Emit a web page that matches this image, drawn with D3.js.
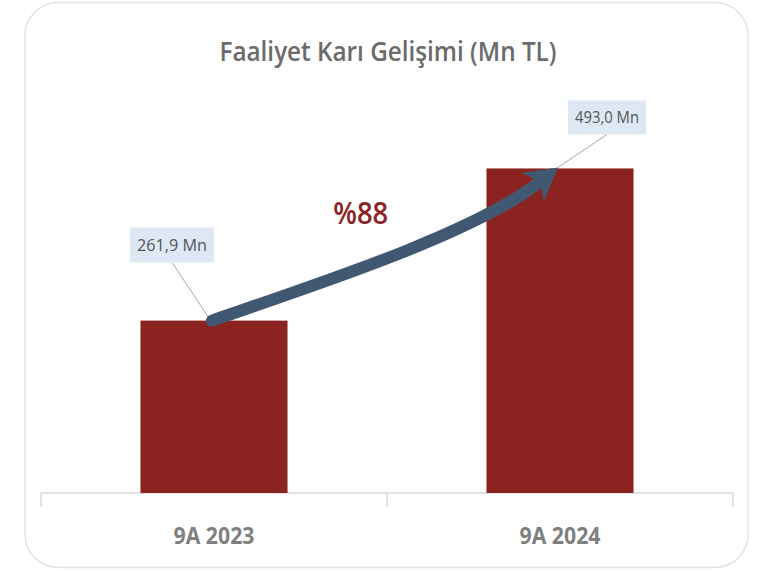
<html>
<head>
<meta charset="utf-8">
<script src="https://d3js.org/d3.v7.min.js"></script>
<style>
  body { margin: 0; background: #fff; }
  text { font-family: "Open Sans", sans-serif; }
</style>
</head>
<body>
<div id="chart"></div>
<script>
// data
const categories = ["9A 2023", "9A 2024"];
const values = [261.9, 493.0];
const valueLabels = ["261,9 Mn", "493,0 Mn"];
const growthLabel = "%88";
const title = "Faaliyet Karı Gelişimi (Mn TL)";

const width = 777, height = 571;
const svg = d3.select("#chart").append("svg")
    .attr("width", width)
    .attr("height", height);

// card
svg.append("rect")
    .attr("x", 25).attr("y", 2.5)
    .attr("width", 723).attr("height", 565)
    .attr("rx", 33).attr("ry", 33)
    .attr("fill", "#fff")
    .attr("stroke", "#e2e2e2")
    .attr("stroke-width", 1.5);

svg.append("text")
    .attr("x", 388).attr("y", 61)
    .attr("text-anchor", "middle")
    .attr("font-size", 27)
    .attr("font-weight", 600)
    .attr("fill", "#6b6b6b")
    .attr("textLength", 337)
    .attr("lengthAdjust", "spacingAndGlyphs")
    .text(title);

const x = d3.scaleBand()
    .domain(categories)
    .range([41, 733])
    .paddingInner(0.575)
    .paddingOuter(0.2875);

const y = d3.scaleLinear()
    .domain([0, 600])
    .range([493, 98]);

// axis
const axis = svg.append("g").attr("transform", `translate(0,${y(0)})`);
axis.append("line")
    .attr("x1", x.range()[0]).attr("x2", x.range()[1])
    .attr("stroke", "#d9d9d9").attr("stroke-width", 1.5);
const tickX = [x.range()[0], x.range()[0] + x.step(), x.range()[1]];
axis.selectAll(".tk").data(tickX).join("line")
    .attr("x1", d => d).attr("x2", d => d)
    .attr("y1", 0).attr("y2", 14)
    .attr("stroke", "#d9d9d9").attr("stroke-width", 1.5);
axis.selectAll(".cat").data(categories).join("text")
    .attr("x", d => x(d) + x.bandwidth() / 2)
    .attr("y", 51)
    .attr("text-anchor", "middle")
    .attr("font-size", 24)
    .attr("font-weight", 700)
    .attr("fill", "#7f7f7f")
    .attr("textLength", 81)
    .attr("lengthAdjust", "spacingAndGlyphs")
    .text(d => d);

// bars
svg.selectAll(".bar").data(values).join("rect")
    .attr("x", (d, i) => x(categories[i]))
    .attr("y", d => y(d))
    .attr("width", x.bandwidth())
    .attr("height", d => y(0) - y(d))
    .attr("fill", "#8b2420");

// value callouts (box offset from the bar top)
const callouts = [
  { dx: -84, dy: -93, bw: 84, bh: 35, ax: -4, ay: -1 },
  { dx: 8, dy: -68, bw: 78, bh: 34, ax: -2, ay: -1 }
];
values.forEach((v, i) => {
  const cx = x(categories[i]) + x.bandwidth() / 2;
  const top = y(v);
  const c = callouts[i];
  const bx = cx + c.dx, by = top + c.dy;
  svg.append("line")
      .attr("x1", bx + c.bw / 2).attr("y1", by + c.bh)
      .attr("x2", cx + c.ax).attr("y2", top + c.ay)
      .attr("stroke", "#a6a6a6").attr("stroke-width", 1);
  svg.append("rect")
      .attr("x", bx).attr("y", by)
      .attr("width", c.bw).attr("height", c.bh)
      .attr("fill", "#dde8f4");
  svg.append("text")
      .attr("x", bx + c.bw / 2).attr("y", by + c.bh / 2 + 6)
      .attr("text-anchor", "middle")
      .attr("font-size", 17)
      .attr("fill", "#555")
      .attr("textLength", c.bw - 14)
      .attr("lengthAdjust", "spacingAndGlyphs")
      .text(valueLabels[i]);
});

// growth arrow from bar 1 top to bar 2 top
const p0 = [x(categories[0]) + x.bandwidth() / 2 - 2, y(values[0])];
const tip = [x(categories[1]) + x.bandwidth() / 2 - 2, y(values[1]) - 1];
const gdx = tip[0] - p0[0], gdy = p0[1] - tip[1];
const ang = -38 * Math.PI / 180;
const d = [Math.cos(ang), Math.sin(ang)];
const headLen = 32, headW = 36;
const bodyEnd = [tip[0] - d[0] * (headLen - 6), tip[1] - d[1] * (headLen - 6)];
const c1 = [p0[0] + 0.28 * gdx, p0[1] - 0.22 * gdy];
const c2 = [bodyEnd[0] - d[0] * 0.24 * gdx, bodyEnd[1] - d[1] * 0.24 * gdx];
const arrowColor = "#415873";
const path = d3.path();
path.moveTo(p0[0], p0[1]);
path.bezierCurveTo(c1[0], c1[1], c2[0], c2[1], bodyEnd[0], bodyEnd[1]);
svg.append("path")
    .attr("d", path.toString())
    .attr("fill", "none")
    .attr("stroke", arrowColor)
    .attr("stroke-width", 12)
    .attr("stroke-linecap", "round");
const base = [tip[0] - d[0] * headLen, tip[1] - d[1] * headLen];
const n = [-d[1], d[0]];
svg.append("path")
    .attr("d", d3.line()([
      tip,
      [base[0] + n[0] * headW / 2, base[1] + n[1] * headW / 2],
      [base[0] + d[0] * 9, base[1] + d[1] * 9],
      [base[0] - n[0] * headW / 2, base[1] - n[1] * headW / 2]
    ]) + "Z")
    .attr("fill", arrowColor);

svg.append("text")
    .attr("x", p0[0] + 0.43 * gdx).attr("y", y(values[1]) + 56)
    .attr("text-anchor", "middle")
    .attr("font-size", 31)
    .attr("font-weight", 600)
    .attr("fill", "#8b2424")
    .attr("textLength", 55)
    .attr("lengthAdjust", "spacingAndGlyphs")
    .text(growthLabel);
</script>
</body>
</html>
